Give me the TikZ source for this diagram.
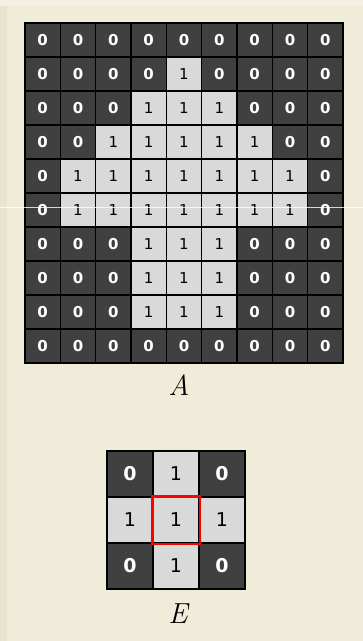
\documentclass[tikz,border=0pt]{standalone}
\usepackage{fontspec}
\newfontfamily\cellfont{DejaVu Sans}

\definecolor{paper}{HTML}{F1EBD9}
\definecolor{papertop}{HTML}{F4F0E4}
\definecolor{paperleft}{HTML}{EAE3CD}
\definecolor{cellon}{HTML}{D9D9D9}
\definecolor{celloff}{HTML}{404040}

\tikzset{
  acell/.style={draw=black, line width=1.5pt, minimum width=35.33pt, minimum height=34pt, inner sep=0pt},
  ecell/.style={draw=black, line width=1.5pt, minimum width=46pt, minimum height=46pt, inner sep=0pt},
  cell0/.style={fill=celloff, text=white},
  cell1/.style={fill=cellon, text=black},
  afont0/.style={font=\cellfont\bfseries\fontsize{15}{15}\selectfont},
  afont1/.style={font=\cellfont\fontsize{15}{15}\selectfont},
  efont0/.style={font=\cellfont\bfseries\fontsize{19}{19}\selectfont},
  efont1/.style={font=\cellfont\fontsize{19}{19}\selectfont},
  setlabel/.style={font=\fontsize{29}{29}\selectfont\itshape},
}

\begin{document}
\begin{tikzpicture}[x=1pt, y=-1pt]

  % ───────── Paper ─────────
  \fill[paper] (0,0) rectangle (363,641);
  \fill[papertop] (0,0) rectangle (363,6);
  \fill[paperleft] (0,6) rectangle (7,641);
  \useasboundingbox (0,0) rectangle (363,641);

  % ───────── Image A (10 rows x 9 columns, origin 25,23) ─────────
  \foreach \row [count=\r from 0] in {
      {0,0,0,0,0,0,0,0,0},
      {0,0,0,0,1,0,0,0,0},
      {0,0,0,1,1,1,0,0,0},
      {0,0,1,1,1,1,1,0,0},
      {0,1,1,1,1,1,1,1,0},
      {0,1,1,1,1,1,1,1,0},
      {0,0,0,1,1,1,0,0,0},
      {0,0,0,1,1,1,0,0,0},
      {0,0,0,1,1,1,0,0,0},
      {0,0,0,0,0,0,0,0,0}} {
    \foreach \v [count=\c from 0] in \row {
      \node[acell, cell\v, afont\v] (a-\r-\c)
        at ({25+(\c+0.5)*35.33}, {23+(\r+0.5)*34}) {\v};
    }
  }
  \node[setlabel] (labA) at (179,385) {A};

  % ───────── Structuring element E (3 x 3, origin 107,451) ─────────
  \foreach \row [count=\r from 0] in {{0,1,0},{1,1,1},{0,1,0}} {
    \foreach \v [count=\c from 0] in \row {
      \node[ecell, cell\v, efont\v] (e-\r-\c)
        at ({107+(\c+0.5)*46}, {451+(\r+0.5)*46}) {\v};
    }
  }
  % origin of E
  \draw[red, line width=2.5pt] (e-1-1.south west) rectangle (e-1-1.north east);
  \node[setlabel] (labE) at (178,614) {E};

  % ───────── Scan line ─────────
  \draw[white, line width=0.8pt, opacity=0.8] (0,207) -- (363,207);

\end{tikzpicture}
\end{document}
